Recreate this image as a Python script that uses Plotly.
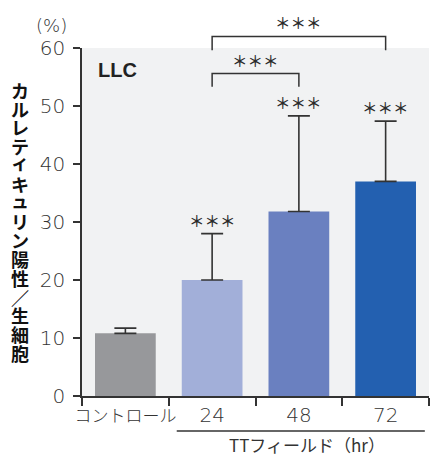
import plotly.graph_objects as go

# Calreticulin-positive fraction of live LLC cells
categories = ["コントロール", "24", "48", "72"]
values = [10.8, 20.0, 31.8, 37.0]
error_tops = [11.7, 28.0, 48.3, 47.4]
bar_colors = ["#97989b", "#a2afd9", "#6a80c0", "#2360b0"]
star_labels = ["", "＊＊＊", "＊＊＊", "＊＊＊"]

# significance brackets: (left index, right index, bar level, leg end)
brackets = [(1, 3, 62.0, 59.6), (1, 2, 55.6, 53.3)]

y_title = "カルレティキュリン陽性／生細胞"
Y_MAX = 60
INK = "#333333"
NUM_FONT = "DejaVu Sans"
JP_FONT = "Noto Sans CJK JP"
STAR_FONT = dict(family=JP_FONT, size=15.5, color="#2a2a2a", weight=500)

err_plus = [t - v for t, v in zip(error_tops, values)]

fig = go.Figure()
fig.add_trace(go.Bar(
    x=categories, y=values, width=0.7,
    marker=dict(color=bar_colors, line=dict(width=0)),
    error_y=dict(type="data", symmetric=False, array=err_plus,
                 arrayminus=[0] * len(values), color=INK,
                 thickness=1.6, width=11),
    showlegend=False,
))

annotations = []
shapes = []

# stars above error bars (paper y so nothing gets hidden past the axis top)
for i, (top, lab) in enumerate(zip(error_tops, star_labels)):
    if lab:
        annotations.append(dict(x=i, y=(top + 2.4) / Y_MAX, xref="x", yref="paper",
                                text=lab, showarrow=False, yanchor="middle",
                                font=STAR_FONT))

# brackets with stars
for xl, xr, level, leg in brackets:
    pts = [(xl, leg), (xl, level), (xr, level), (xr, leg)]
    path = "M " + " L ".join(f"{x},{y / Y_MAX}" for x, y in pts)
    shapes.append(dict(type="path", xref="x", yref="paper", path=path,
                       line=dict(color=INK, width=1.5)))
    annotations.append(dict(x=(xl + xr) / 2, y=(level + 2.4) / Y_MAX,
                            xref="x", yref="paper", text="＊＊＊",
                            showarrow=False, yanchor="middle", font=STAR_FONT))

# vertical y-axis title, one character per row
top_px, pitch = 89.5, 18.8
plot_h = 348
small_kana = "ィュ"
for i, ch in enumerate(y_title):
    ypx = top_px + i * pitch
    annotations.append(dict(x=-0.179, y=(395.7 - ypx) / plot_h,
                            xref="paper", yref="paper", text=ch,
                            showarrow=False, xanchor="center", yanchor="middle",
                            yshift=3 if ch in small_kana else 0,
                            font=dict(family=JP_FONT, size=18, color="#111111",
                                      weight="bold")))

annotations += [
    dict(x=-0.089, y=1.065, xref="paper", yref="paper", text="(%)",
         showarrow=False, xanchor="center", yanchor="middle",
         font=dict(family=NUM_FONT, size=18, color=INK, weight=300)),
    dict(x=0.102, y=0.936, xref="paper", yref="paper", text="<b>LLC</b>",
         showarrow=False, xanchor="center", yanchor="middle",
         font=dict(family="Liberation Sans", size=20, color="#222222")),
    dict(x=0.6485, y=-0.139, xref="paper", yref="paper", text="TTフィールド（hr）",
         showarrow=False, xanchor="center", yanchor="middle",
         font=dict(family=JP_FONT, size=17, color=INK)),
]
shapes.append(dict(type="line", xref="paper", yref="paper",
                   x0=0.273, x1=0.988, y0=-0.1006, y1=-0.1006,
                   line=dict(color=INK, width=1.5)))

tick_text = ['<span style="font-family:Noto Sans CJK JP;font-size:17px">コントロール</span>',
             "24", "48", "72"]

fig.update_layout(
    width=433, height=457,
    margin=dict(l=82, r=4, t=48, b=61),
    paper_bgcolor="white", plot_bgcolor="#f1f2f3",
    xaxis=dict(type="category", range=[-0.5, 3.5], tickmode="array",
               tickvals=categories, ticktext=tick_text, tickson="boundaries",
               tickangle=0, automargin=False,
               ticks="outside", ticklen=8, tickwidth=1.5, tickcolor=INK,
               showline=True, linecolor=INK, linewidth=1.5, showgrid=False,
               tickfont=dict(family=NUM_FONT, size=20, color=INK, weight=300)),
    yaxis=dict(range=[0, Y_MAX], dtick=10, ticks="outside", ticklen=7,
               automargin=False, ticklabelstandoff=4,
               tickwidth=1.5, tickcolor=INK, showline=True, linecolor=INK,
               linewidth=1.5, showgrid=False, zeroline=False,
               tickfont=dict(family=NUM_FONT, size=20, color=INK, weight=300)),
    annotations=annotations, shapes=shapes,
)

fig.write_html("out.html")
